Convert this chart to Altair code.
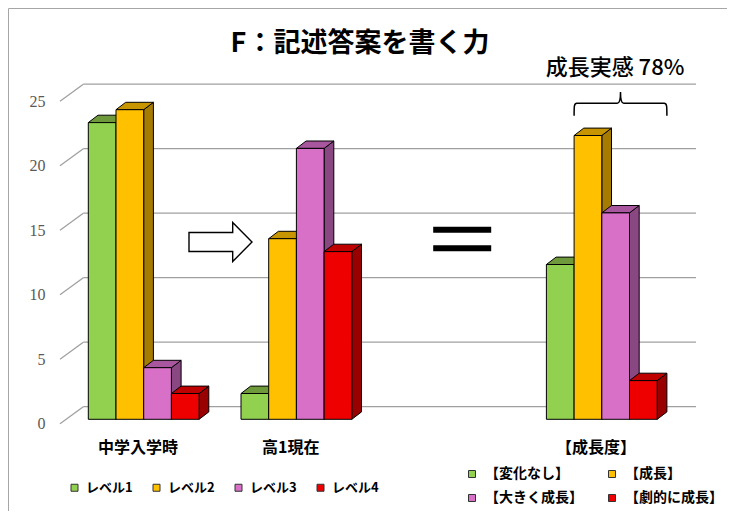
import altair as alt
import pandas as pd

# ---------------- data ----------------
title_text = "F：記述答案を書く力"
groups = ["中学入学時", "高1現在", "【成長度】"]
levels = ["レベル1", "レベル2", "レベル3", "レベル4"]
growth_labels = ["【変化なし】", "【成長】", "【大きく成長】", "【劇的に成長】"]
vals_start = [23, 24, 4, 2]
vals_now = [2, 14, 21, 13]
vals_growth = [12, 22, 16, 3]
y_ticks = [0, 5, 10, 15, 20, 25]
note_text = "成長実感 78%"

# ---------------- style / layout ----------------
front_colors = ["#92D050", "#FFC000", "#D970C8", "#EE0000"]
top_colors = ["#6E9A3C", "#C79500", "#A8579E", "#BF0000"]
side_colors = ["#5E8A30", "#A67C00", "#8A4883", "#990000"]

PX = 12.9            # pixels per value unit
BASE = 419.3         # pixel row of value 0 (bar front plane)
X0, SLOT, BW = 88.3, 152.7, 27.7
SLOTS = [0, 1, 3]
DX, DY = 9.7, 7.4 / PX          # bar depth
WALL_X, WALL_DY = 83.3, 12.6 / PX
AX_X, AX_DY = 60.0, 4.5 / PX
GRID_END = 696


def vy(py):
    return (BASE - py) / PX


XS = alt.Scale(domain=[8, 727], nice=False, zero=False)
YS = alt.Scale(domain=[vy(511), vy(8)], nice=False, zero=False)
YAX = alt.Axis(values=y_ticks, grid=False, domain=False, ticks=False, tickSize=0,
               labelPadding=15, labelOffset=4.5, offset=-(AX_X - 8), title=None,
               labelFont="Liberation Serif", labelFontSize=16, labelColor="#595959")

series = [vals_start, vals_now, vals_growth]
front, side, top = [], [], []
for g, (vals, slot) in enumerate(zip(series, SLOTS)):
    for i, v in enumerate(vals):
        xl = X0 + slot * SLOT + i * BW
        xr = xl + BW
        bid = f"{g}-{i}"
        front.append(dict(x=xl, x2=xr, y=0, y2=v, level=levels[i]))
        side += [dict(bar=bid, x=xr, lo=0, hi=v, c=side_colors[i]),
                 dict(bar=bid, x=xr + DX, lo=DY, hi=v + DY, c=side_colors[i])]
        top += [dict(bar=bid, y=v, xa=xl, xb=xr, c=top_colors[i]),
                dict(bar=bid, y=v + DY, xa=xl + DX, xb=xr + DX, c=top_colors[i])]

front_df = pd.DataFrame(front)
side_df = pd.DataFrame(side)
top_df = pd.DataFrame(top)

grid_df = pd.DataFrame({"v": y_ticks})
grid_df["gy"] = grid_df["v"] + WALL_DY
grid_df["fy"] = grid_df["v"] - AX_DY
grid_df["xa"] = AX_X
grid_df["xw"] = WALL_X
grid_df["xe"] = GRID_END

grid = alt.Chart(grid_df).mark_rule(color="#A0A0A0", strokeWidth=1.3).encode(
    x=alt.X("xw:Q", scale=XS, axis=None), x2="xe:Q",
    y=alt.Y("gy:Q", scale=YS, axis=YAX))
diag = alt.Chart(grid_df).mark_rule(color="#A0A0A0", strokeWidth=1.3).encode(
    x=alt.X("xa:Q", scale=XS, axis=None), x2="xw:Q",
    y=alt.Y("fy:Q", scale=YS, axis=YAX), y2="gy:Q")

sides = alt.Chart(side_df).mark_area(stroke="black", strokeWidth=1, opacity=1).encode(
    x=alt.X("x:Q", scale=XS, axis=None, stack=None),
    y=alt.Y("lo:Q", scale=YS, axis=YAX, stack=None), y2="hi:Q",
    fill=alt.Fill("c:N", scale=None), detail="bar:N")
tops = alt.Chart(top_df).mark_area(stroke="black", strokeWidth=1, opacity=1,
                                   orient="horizontal").encode(
    y=alt.Y("y:Q", scale=YS, axis=YAX, stack=None),
    x=alt.X("xa:Q", scale=XS, axis=None, stack=None), x2="xb:Q",
    fill=alt.Fill("c:N", scale=None), detail="bar:N")
fronts = alt.Chart(front_df).mark_rect(stroke="black", strokeWidth=1).encode(
    x=alt.X("x:Q", scale=XS, axis=None), x2="x2:Q",
    y=alt.Y("y:Q", scale=YS, axis=YAX), y2="y2:Q",
    color=alt.Color("level:N", scale=alt.Scale(domain=levels, range=front_colors),
                    legend=alt.Legend(title=None, orient="none", direction="horizontal",
                                      legendX=60, legendY=473, padding=0,
                                      symbolType="square", symbolSize=49,
                                      symbolStrokeColor="#333333", symbolStrokeWidth=1,
                                      labelFont="Noto Sans CJK JP", labelFontWeight="bold",
                                      labelFontSize=13, labelColor="black",
                                      labelOffset=5, columnPadding=17, labelLimit=300)))

# decorations
arrow_path = "M-1,-0.3 L0.387,-0.3 L0.387,-0.62 L1,0 L0.387,0.62 L0.387,0.3 L-1,0.3 Z"
eq_path = "M-1,-0.424 L1,-0.424 L1,-0.217 L-1,-0.217 Z M-1,0.217 L1,0.217 L1,0.424 L-1,0.424 Z"
brace_path = ("M-1,0.27 C-1,0.06 -1,0 -0.94,0 L-0.07,0 C-0.02,0 0,-0.06 0,-0.245 "
              "C0,-0.06 0.02,0 0.07,0 L0.94,0 C1,0 1,0.06 1,0.27")

b_left = X0 + 3 * SLOT + BW
b_right = X0 + 3 * SLOT + 4 * BW + DX
brace_w = b_right - b_left

arrow = alt.Chart(pd.DataFrame({"x": [220.5], "y": [vy(242)]})).mark_point(
    shape=arrow_path, size=63 ** 2, filled=True, fill="white", stroke="black",
    strokeWidth=1.4, opacity=1).encode(
    x=alt.X("x:Q", scale=XS, axis=None), y=alt.Y("y:Q", scale=YS, axis=YAX))
equal = alt.Chart(pd.DataFrame({"x": [462.2], "y": [vy(239)]})).mark_point(
    shape=eq_path, size=58 ** 2, filled=True, fill="black", strokeWidth=0,
    opacity=1).encode(
    x=alt.X("x:Q", scale=XS, axis=None), y=alt.Y("y:Q", scale=YS, axis=YAX))
brace = alt.Chart(pd.DataFrame({"x": [(b_left + b_right) / 2], "y": [vy(103.3)]})).mark_point(
    shape=brace_path, size=brace_w ** 2, filled=False, stroke="black",
    strokeWidth=1.5, opacity=1).encode(
    x=alt.X("x:Q", scale=XS, axis=None), y=alt.Y("y:Q", scale=YS, axis=YAX))
note = alt.Chart(pd.DataFrame({"t": [note_text], "x": [615], "y": [vy(68)]})).mark_text(
    font="Noto Sans CJK JP", fontSize=22, fontWeight=500, color="black", align="center",
    baseline="middle").encode(
    x=alt.X("x:Q", scale=XS, axis=None), y=alt.Y("y:Q", scale=YS, axis=YAX), text="t:N")

cat_df = pd.DataFrame({"t": groups,
                       "x": [X0 + s * SLOT + 2 * BW - 5.7 for s in SLOTS],
                       "y": [vy(448)] * 3})
cats = alt.Chart(cat_df).mark_text(
    font="Noto Sans CJK JP", fontWeight="bold", fontSize=16, color="black",
    align="center", baseline="middle").encode(
    x=alt.X("x:Q", scale=XS, axis=None), y=alt.Y("y:Q", scale=YS, axis=YAX), text="t:N")

leg_df = pd.DataFrame({"g": growth_labels, "x": [X0] * 4, "y": [0] * 4})
legend2 = alt.Chart(leg_df).mark_square(opacity=0, size=1).encode(
    x=alt.X("x:Q", scale=XS, axis=None), y=alt.Y("y:Q", scale=YS, axis=YAX),
    fill=alt.Fill("g:N", scale=alt.Scale(domain=growth_labels, range=front_colors),
                  legend=alt.Legend(title=None, orient="none", columns=2,
                                    direction="horizontal",
                                    legendX=457, legendY=459, padding=0,
                                    symbolType="square", symbolSize=49, symbolOpacity=1,
                                    symbolStrokeColor="#333333", symbolStrokeWidth=1,
                                    labelFont="Noto Sans CJK JP", labelFontWeight="bold",
                                    labelFontSize=14, labelColor="black",
                                    labelOffset=6, columnPadding=22, rowPadding=10,
                                    labelLimit=300)))

chart = alt.layer(grid, diag, sides, tops, fronts, arrow, equal, brace, note, cats, legend2).resolve_scale(
    fill="independent", color="independent"
).properties(
    width=719, height=503,
    autosize=alt.AutoSizeParams(type="none"),
    padding={"left": 0, "top": 0, "right": 0, "bottom": 0},
    title=alt.TitleParams(text=title_text, anchor="middle", baseline="middle", offset=-34,
                          dy=29, dx=-7.5, frame="group", fontSize=27, font="Noto Sans CJK JP",
                          fontWeight="bold", color="black"),
).configure_view(stroke="#A6A6A6", strokeWidth=1)

chart.save("out.html", embed_options={"renderer": "svg", "actions": False})
